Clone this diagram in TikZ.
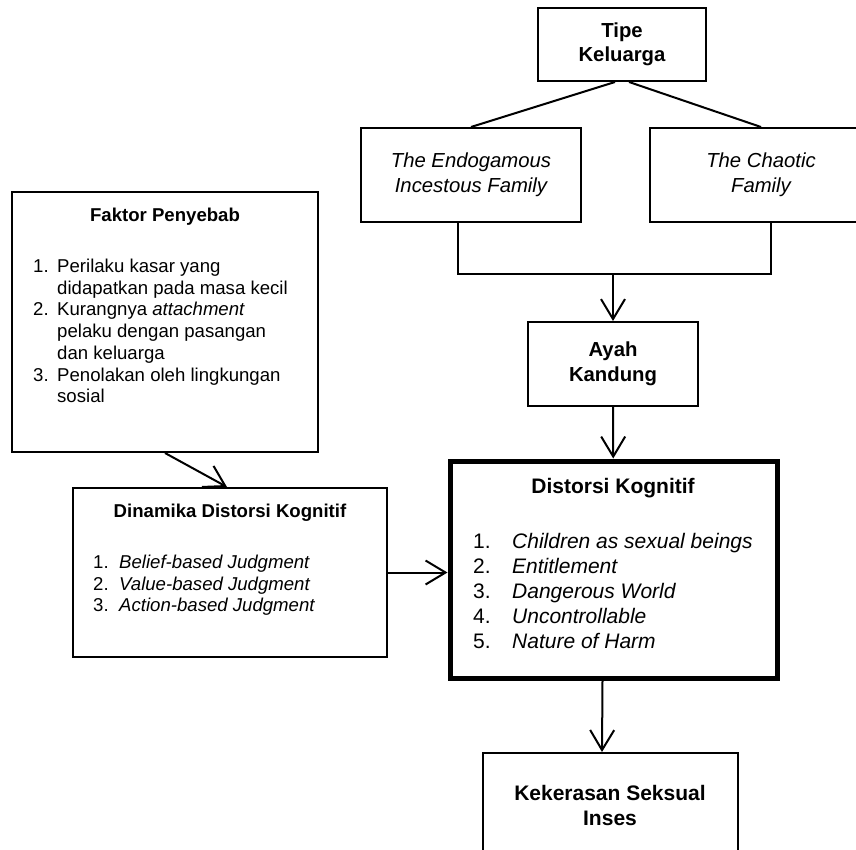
\documentclass[tikz,border=0pt]{standalone}
\usepackage{fontspec}
\setmainfont{Liberation Sans}
\usetikzlibrary{arrows.meta}
\newcommand{\listfont}{\fontsize{18.6pt}{21.7pt}\selectfont}
\newcommand{\boxfont}{\fontsize{20.3pt}{24.5pt}\selectfont}
\newcommand{\bigfont}{\fontsize{21pt}{25pt}\selectfont}
\tikzset{
  box/.style={draw, line width=2pt, inner sep=0pt, align=center},
  thickbox/.style={box, line width=5pt},
  listtext/.style={anchor=base west, inner sep=0pt},
  arrow/.style={line width=2pt, -{Straight Barb[length=20pt,width=24pt]}}
}

\begin{document}
\begin{tikzpicture}[x=1pt, y=-1pt]
  \useasboundingbox (0,0) rectangle (856,850);
  % tipe keluarga
  \node[box, minimum width=168pt, minimum height=73pt, font=\boxfont\bfseries] (tipe) at (622,44.5) {Tipe\\Keluarga};
  \node[box, minimum width=220pt, minimum height=94pt, font=\boxfont\itshape] (endo) at (471,175) {The Endogamous\\Incestous Family};
  \node[box, minimum width=222pt, minimum height=94pt, font=\boxfont\itshape] (chaotic) at (761,175) {The Chaotic\\Family};
  \node[box, minimum width=170pt, minimum height=84pt, font=\boxfont\bfseries] (ayah) at (613,364) {Ayah\\Kandung};
  \draw[line width=2pt] ([xshift=-7pt]tipe.south) -- (endo.north);
  \draw[line width=2pt] ([xshift=7pt]tipe.south) -- (chaotic.north);
  \coordinate (join) at (613,274);
  \draw[line width=2pt] ([xshift=-13pt]endo.south) |- (join) -| ([xshift=10pt]chaotic.south);
  \draw[arrow] (join) -- (ayah.north);

  % faktor penyebab
  \node[box, minimum width=306pt, minimum height=260pt] (faktor) at (165,322) {};
  \node[font=\listfont\bfseries] (faktor-title) at (165,217) {Faktor Penyebab};
  \node[listtext, font=\listfont] (faktor-list) at (33,272.5) {%
    \begin{tabular}[t]{@{}p{24pt}@{}l@{}}
      1. & Perilaku kasar yang\\
         & didapatkan pada masa kecil\\
      2. & Kurangnya \textit{attachment}\\
         & pelaku dengan pasangan\\
         & dan keluarga\\
      3. & Penolakan oleh lingkungan\\
         & sosial
    \end{tabular}};

  % dinamika
  \node[box, minimum width=314pt, minimum height=169pt] (dinamika) at (230,572.5) {};
  \node[font=\listfont\bfseries] (dinamika-title) at (230,513) {Dinamika Distorsi Kognitif};
  \node[listtext, font=\listfont] (dinamika-list) at (93,568.5) {%
    \begin{tabular}[t]{@{}p{26pt}@{}l@{}}
      1. & \textit{Belief-based Judgment}\\
      2. & \textit{Value-based Judgment}\\
      3. & \textit{Action-based Judgment}
    \end{tabular}};

  % distorsi kognitif
  \node[thickbox, minimum width=327pt, minimum height=217pt] (distorsi) at (613.5,569.5) {};
  \node[font=\bigfont\bfseries] (distorsi-title) at (613,488) {Distorsi Kognitif};
  \node[listtext, font=\bigfont] (distorsi-list) at (473,548.4) {%
    \begin{tabular}[t]{@{}p{39pt}@{}l@{}}
      1. & \textit{Children as sexual beings}\\
      2. & \textit{Entitlement}\\
      3. & \textit{Dangerous World}\\
      4. & \textit{Uncontrollable}\\
      5. & \textit{Nature of Harm}
    \end{tabular}};

  \node[box, minimum width=255pt, minimum height=104pt, font=\bigfont\bfseries] (inses) at (610,805) {Kekerasan Seksual\\Inses};

  \draw[arrow] (ayah) -- (distorsi);
  \draw[arrow] (faktor.south) -- ([xshift=-3pt]dinamika.north);
  \draw[arrow] (dinamika.east) -- (dinamika.east -| distorsi.west);
  \draw[arrow] ([xshift=-11pt]distorsi.south) -- ([xshift=-8pt]inses.north);
\end{tikzpicture}
\end{document}
